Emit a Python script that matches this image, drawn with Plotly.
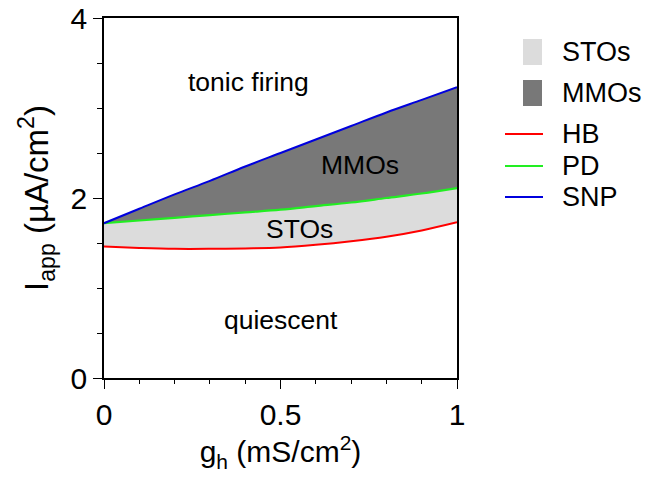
import plotly.graph_objects as go

# ---- data ----
g_h = [0.0, 0.1, 0.2, 0.3, 0.4, 0.5, 0.6, 0.7, 0.8, 0.9, 1.0]
hb  = [1.46, 1.445, 1.435, 1.435, 1.44, 1.45, 1.48, 1.52, 1.57, 1.64, 1.73]
pd_ = [1.72, 1.75, 1.78, 1.81, 1.84, 1.87, 1.91, 1.95, 2.00, 2.05, 2.11]
snp = [1.72, 1.88, 2.04, 2.19, 2.35, 2.50, 2.65, 2.80, 2.95, 3.09, 3.23]

region_labels = ["tonic firing", "MMOs", "STOs", "quiescent"]
region_x = [0.41, 0.725, 0.555, 0.50]
region_y = [3.29, 2.37, 1.66, 0.64]

x_tickvals = [0, 0.5, 1]
x_ticktext = ["0", "0.5", "1"]
y_tickvals = [0, 2, 4]
y_ticktext = ["0", "2", "4"]

patch_labels = ["STOs", "MMOs"]
line_labels = ["HB", "PD", "SNP"]

STO_COL = "#dcdcdc"
MMO_COL = "#787878"
HB_COL = "#ff0000"
PD_COL = "#22ee22"
SNP_COL = "#0000dd"
patch_colors = [STO_COL, MMO_COL]
line_colors = [HB_COL, PD_COL, SNP_COL]

FONT = "Liberation Sans, Arial, sans-serif"

fig = go.Figure()
fig.add_trace(go.Scatter(x=g_h, y=hb, mode="lines", line=dict(color=HB_COL, width=2),
                         name="HB", showlegend=False, line_shape="spline"))
fig.add_trace(go.Scatter(x=g_h, y=pd_, mode="lines", line=dict(color=PD_COL, width=2.2),
                         fill="tonexty", fillcolor=STO_COL, name="PD", showlegend=False,
                         line_shape="spline"))
fig.add_trace(go.Scatter(x=g_h, y=snp, mode="lines", line=dict(color=SNP_COL, width=2),
                         fill="tonexty", fillcolor=MMO_COL, name="SNP", showlegend=False,
                         line_shape="spline"))

for t, x, y in zip(region_labels, region_x, region_y):
    fig.add_annotation(x=x, y=y, text=t, showarrow=False, xref="x", yref="y",
                       font=dict(size=26.5, color="black", family=FONT))

# ---- manual legend (paper coordinates) ----
L, R, T, B = 104, 457, 18, 378
W, H = R - L, B - T
def px(xp): return (xp - L) / W
def py(yp): return (B - yp) / H

shapes = []
annots = []
patch_centers = [52, 93]
for lab, col, cy in zip(patch_labels, patch_colors, patch_centers):
    shapes.append(dict(type="rect", xref="paper", yref="paper",
                       x0=px(523), x1=px(542), y0=py(cy + 13), y1=py(cy - 13),
                       fillcolor=col, line=dict(width=0)))
    annots.append(dict(x=px(560), y=py(cy), xref="paper", yref="paper", text=lab,
                       showarrow=False, xanchor="left", yanchor="middle",
                       font=dict(size=27, color="black", family=FONT)))
line_centers = [134, 166, 197]
for lab, col, cy in zip(line_labels, line_colors, line_centers):
    shapes.append(dict(type="line", xref="paper", yref="paper",
                       x0=px(505), x1=px(543), y0=py(cy), y1=py(cy),
                       line=dict(color=col, width=2)))
    annots.append(dict(x=px(560), y=py(cy), xref="paper", yref="paper", text=lab,
                       showarrow=False, xanchor="left", yanchor="middle",
                       font=dict(size=27, color="black", family=FONT)))

for a in annots:
    fig.add_annotation(**a)

fig.update_layout(
    width=649, height=492,
    margin=dict(l=L, r=649 - R, t=T, b=492 - B),
    paper_bgcolor="white", plot_bgcolor="white",
    font=dict(family=FONT, color="black"),
    shapes=shapes,
    showlegend=False,
)
fig.update_xaxes(
    range=[0, 1], tickvals=x_tickvals, ticktext=x_ticktext, automargin=False,
    ticks="outside", ticklen=9, tickwidth=1.2, tickcolor="black",
    minor=dict(dtick=0.1, ticks="outside", ticklen=4, tickwidth=1.2, tickcolor="black"),
    showline=True, linecolor="black", linewidth=1.5, mirror=True,
    showgrid=False, zeroline=False,
    tickfont=dict(size=30, family=FONT),
    title=dict(text="g<sub>h</sub> (mS/cm<sup>2</sup>)", font=dict(size=30, family=FONT), standoff=6),
)
fig.update_yaxes(
    range=[0, 4], tickvals=y_tickvals, ticktext=y_ticktext, automargin=False,
    ticks="outside", ticklen=9, tickwidth=1.2, tickcolor="black",
    minor=dict(dtick=0.5, ticks="outside", ticklen=5, tickwidth=1.2, tickcolor="black"),
    showline=True, linecolor="black", linewidth=1.5, mirror=True,
    showgrid=False, zeroline=False, ticklabelstandoff=0,
    tickfont=dict(size=30, family=FONT),
    title=dict(text="I<sub>app</sub> (µA/cm<sup>2</sup>)", font=dict(size=33, family=FONT), standoff=12),
)

fig.write_html("out.html", config={"displayModeBar": False},
               post_script="document.body.style.margin='0';document.body.style.overflow='hidden';")
